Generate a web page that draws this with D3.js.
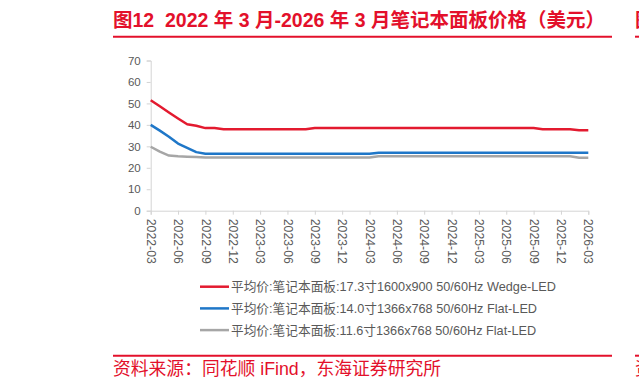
<html>
<head>
<meta charset="utf-8">
<script src="https://d3js.org/d3.v7.min.js"></script>
<style>
  body { margin: 0; background: #fff; }
  svg text { font-family: "Liberation Sans", "Noto Sans CJK SC", sans-serif; white-space: pre; }
  .axis .domain, .axis line { stroke: #d4d4d4; }
  .axis text { fill: #595959; font-size: 11.5px; }
  .x.axis text { font-size: 12.3px; }
</style>
</head>
<body>
<svg id="chart" width="639" height="390"></svg>
<script>
// monthly observations 2022-03 .. 2026-03
const months = [];
for (let y = 2022; y <= 2026; y++) {
  for (let m = 1; m <= 12; m++) {
    if ((y === 2022 && m < 3) || (y === 2026 && m > 3)) continue;
    months.push(y + '-' + String(m).padStart(2, '0'));
  }
}

const wedge173 = [51.5, 48.7, 45.8, 43.0, 40.3, 39.6, 38.5, 38.5, 38.0, 38.0,
  38.0, 38.0, 38.0, 38.0, 38.0, 38.0, 38.0, 38.0, 38.5, 38.5,
  38.5, 38.5, 38.5, 38.5, 38.5, 38.5, 38.5, 38.5, 38.5, 38.5,
  38.5, 38.5, 38.5, 38.5, 38.5, 38.5, 38.5, 38.5, 38.5, 38.5,
  38.5, 38.5, 38.5, 38.0, 38.0, 38.0, 38.0, 37.5, 37.5];
const flat140 = [40.0, 37.3, 34.5, 31.3, 29.3, 27.3, 26.5, 26.5, 26.5, 26.5,
  26.5, 26.5, 26.5, 26.5, 26.5, 26.5, 26.5, 26.5, 26.5, 26.5,
  26.5, 26.5, 26.5, 26.5, 26.5, 27.0, 27.0, 27.0, 27.0, 27.0,
  27.0, 27.0, 27.0, 27.0, 27.0, 27.0, 27.0, 27.0, 27.0, 27.0,
  27.0, 27.0, 27.0, 27.0, 27.0, 27.0, 27.0, 27.0, 27.0];
const flat116 = [29.8, 27.5, 25.7, 25.4, 25.2, 25.0, 24.8, 24.8, 24.8, 24.8,
  24.8, 24.8, 24.8, 24.8, 24.8, 24.8, 24.8, 24.8, 24.8, 24.8,
  24.8, 24.8, 24.8, 24.8, 24.8, 25.4, 25.4, 25.4, 25.4, 25.4,
  25.4, 25.4, 25.4, 25.4, 25.4, 25.4, 25.4, 25.4, 25.4, 25.4,
  25.4, 25.4, 25.4, 25.4, 25.4, 25.4, 25.4, 24.7, 24.7];

const seriesNames = [
  '平均价:笔记本面板:17.3寸1600x900 50/60Hz Wedge-LED',
  '平均价:笔记本面板:14.0寸1366x768 50/60Hz Flat-LED',
  '平均价:笔记本面板:11.6寸1366x768 50/60Hz Flat-LED'
];
const seriesColors = ['#e31a2f', '#1f77c8', '#a6a6a6'];
const yTicks = [0, 10, 20, 30, 40, 50, 60, 70];
const titleText = '图12  2022 年 3 月-2026 年 3 月笔记本面板价格（美元）';
const sourceText = '资料来源：同花顺 iFind，东海证券研究所';

const svg = d3.select('svg#chart');
const red = '#e3102b';

const x = d3.scalePoint().domain(months).range([150.7, 588.3]);
const y = d3.scaleLinear().domain([0, 70]).range([210.7, 60.5]);

// title + rules
svg.append('text').attr('x', 113).attr('y', 27)
  .attr('fill', red).attr('font-size', 19.5).attr('font-weight', 'bold')
  .text(titleText);
svg.append('line').attr('x1', 113).attr('x2', 612).attr('y1', 36.7).attr('y2', 36.7)
  .attr('stroke', red).attr('stroke-width', 2);
// edge of the neighbouring panel
svg.append('text').attr('x', 635).attr('y', 27)
  .attr('fill', red).attr('font-size', 19.5).attr('font-weight', 'bold').text('图');
svg.append('line').attr('x1', 635).attr('x2', 639).attr('y1', 36.7).attr('y2', 36.7)
  .attr('stroke', red).attr('stroke-width', 2);

// axes
const yAxis = d3.axisLeft(y).tickValues(yTicks).tickSize(4).tickPadding(6);
svg.append('g').attr('class', 'y axis')
  .attr('transform', 'translate(150.7,0)')
  .call(yAxis);

const xAxis = d3.axisBottom(x).tickValues(months.filter((d, i) => i % 3 === 0)).tickSize(4);
const gx = svg.append('g').attr('class', 'x axis')
  .attr('transform', 'translate(0,210.7)')
  .call(xAxis);
gx.selectAll('text')
  .attr('transform', 'rotate(90)')
  .attr('x', 8).attr('y', 0).attr('dy', '0.35em')
  .attr('text-anchor', 'start');

// lines
const line = d3.line().x((d, i) => x(months[i])).y(d => y(d));
[wedge173, flat140, flat116].forEach((vals, k) => {
  svg.append('path').datum(vals)
    .attr('d', line)
    .attr('fill', 'none')
    .attr('stroke', seriesColors[k])
    .attr('stroke-width', 2.5)
    .attr('stroke-linejoin', 'round');
});

// legend
const legend = svg.append('g');
seriesNames.forEach((name, k) => {
  const ly = 286.7 + k * 21.7;
  legend.append('line').attr('x1', 200).attr('x2', 229).attr('y1', ly).attr('y2', ly)
    .attr('stroke', seriesColors[k]).attr('stroke-width', 2.5);
  legend.append('text').attr('x', 231).attr('y', ly).attr('dy', '0.35em')
    .attr('fill', '#595959').attr('font-size', 12.7).text(name);
});

// source
svg.append('line').attr('x1', 113).attr('x2', 612).attr('y1', 355.7).attr('y2', 355.7)
  .attr('stroke', red).attr('stroke-width', 2);
svg.append('line').attr('x1', 635).attr('x2', 639).attr('y1', 355.7).attr('y2', 355.7)
  .attr('stroke', red).attr('stroke-width', 2);
svg.append('text').attr('x', 113).attr('y', 375)
  .attr('fill', red).attr('font-size', 17.8).text(sourceText);
svg.append('text').attr('x', 635).attr('y', 375)
  .attr('fill', red).attr('font-size', 17.8).text('资');
</script>
</body>
</html>
